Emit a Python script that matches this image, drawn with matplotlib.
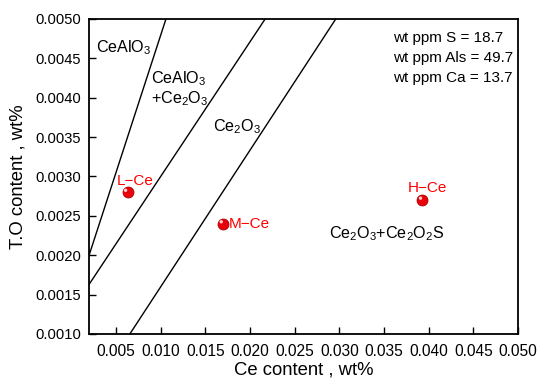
import matplotlib
matplotlib.use('Agg')
import matplotlib.pyplot as plt
import matplotlib.transforms as mtransforms

plt.rcParams['font.family'] = 'Liberation Sans'
plt.rcParams['mathtext.fontset'] = 'custom'
plt.rcParams['mathtext.rm'] = 'Liberation Sans'
plt.rcParams['mathtext.it'] = 'Liberation Sans'

# boundary lines (Ce content, T.O content)
line1_x = [0.002, 0.0106]
line1_y = [0.0020, 0.0050]
line2_x = [0.002, 0.0217]
line2_y = [0.00163, 0.0050]
line3_x = [0.00656, 0.0296]
line3_y = [0.0010, 0.0050]

# samples
sample_names = ['L\u2212Ce', 'M\u2212Ce', 'H\u2212Ce']
sample_ce = [0.0063, 0.0170, 0.0393]
sample_to = [0.0028, 0.0024, 0.0027]

xticks = [0.005, 0.010, 0.015, 0.020, 0.025, 0.030, 0.035, 0.040, 0.045, 0.050]
yticks = [0.0010, 0.0015, 0.0020, 0.0025, 0.0030, 0.0035, 0.0040, 0.0045, 0.0050]

conditions = ['wt ppm S = 18.7', 'wt ppm Als = 49.7', 'wt ppm Ca = 13.7']

fig = plt.figure(figsize=(5.5, 3.87), dpi=100)
ax = fig.add_axes([0.162, 0.137, 0.780, 0.814])

for lx, ly in [(line1_x, line1_y), (line2_x, line2_y), (line3_x, line3_y)]:
    ax.plot(lx, ly, color='black', lw=1.0)

# red "sphere" markers with a small highlight
ax.scatter(sample_ce, sample_to, s=62, color='#e8000b', edgecolors='#b00000',
           linewidths=0.6, zorder=3)
hl = ax.transData + mtransforms.ScaledTranslation(-1.4/72, 1.4/72, fig.dpi_scale_trans)
ax.scatter(sample_ce, sample_to, s=6, color='#ffd0d0', edgecolors='none',
           transform=hl, zorder=4)

# sample labels
offsets = [(5.8, 8.0), (4.3, 0.0), (3.3, 8.6)]
aligns = ['center', 'left', 'center']
for name, cx, cy, off, ha in zip(sample_names, sample_ce, sample_to, offsets, aligns):
    ax.annotate(name, (cx, cy), xytext=off, textcoords='offset points',
                ha=ha, va='center', color='red', fontsize=11)

# region labels
ax.text(0.00278, 0.00458, r'CeAlO$_3$', fontsize=11.6, va='baseline')
ax.text(0.00894, 0.00418, r'CeAlO$_3$', fontsize=11.6, va='baseline')
ax.text(0.00894, 0.003935, r'+Ce$_2$O$_3$', fontsize=11.6, va='baseline')
ax.text(0.01588, 0.00357, r'Ce$_2$O$_3$', fontsize=11.6, va='baseline')
ax.text(0.02885, 0.00222, r'Ce$_2$O$_3$+Ce$_2$O$_2$S', fontsize=11.6, va='baseline')

for txt, ty in zip(conditions, [0.004708, 0.004454, 0.004200]):
    ax.text(0.03602, ty, txt, fontsize=11, va='baseline')

ax.set_xlim(0.002, 0.050)
ax.set_ylim(0.0010, 0.0050)
ax.set_xticks(xticks)
ax.set_xticklabels(['{:.3f}'.format(v) for v in xticks])
ax.set_yticks(yticks)
ax.set_yticklabels(['{:.4f}'.format(v) for v in yticks])
ax.tick_params(direction='in', length=5, width=1.0, top=False, right=False)
ax.tick_params(axis='x', labelsize=11.2, pad=7)
ax.tick_params(axis='y', labelsize=10.6, pad=6)
for sp in ax.spines.values():
    sp.set_linewidth(1.3)

ax.set_xlabel('Ce content , wt%', fontsize=13.3, labelpad=2)
ax.set_ylabel('T.O content , wt%', fontsize=13.3, labelpad=6)

fig.savefig('out.png', dpi=100)
